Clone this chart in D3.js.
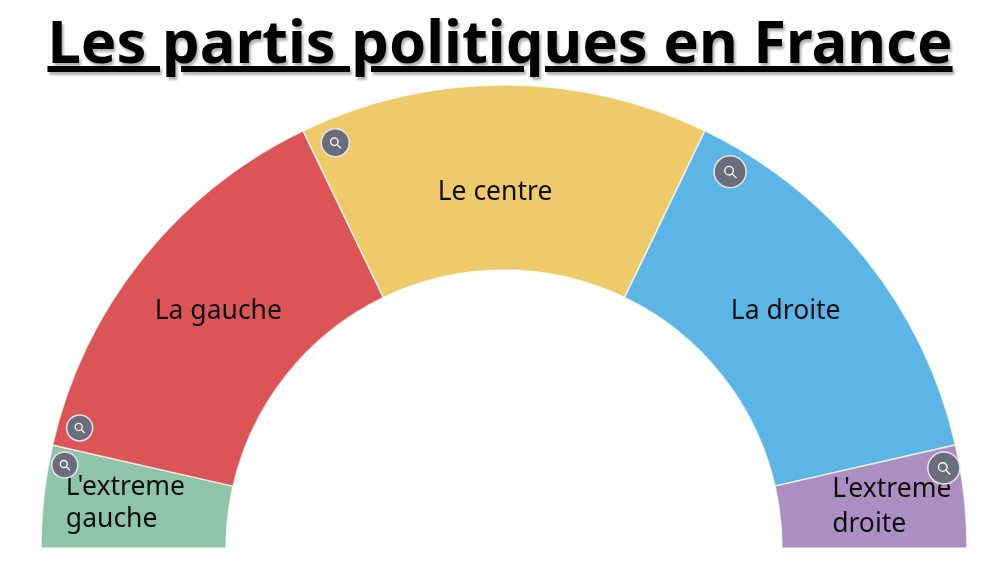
<!DOCTYPE html>
<html lang="fr">

<head>
  <meta charset="UTF-8">
  <title>Les partis politiques en France</title>
  <script src="https://d3js.org/d3.v7.min.js"></script>
  <style>
    html, body {
      margin: 0;
      padding: 0;
      background: #fff;
      overflow: hidden;
    }

    svg {
      display: block;
      font-family: "Noto Sans", sans-serif;
    }

    .title {
      font-size: 59.7px;
      font-weight: 700;
      text-decoration: underline;
      text-anchor: middle;
    }

    .label {
      font-size: 26.5px;
      fill: #111;
    }
  </style>
</head>

<body>
  <div id="chart"></div>

  <script>
    const parties = ["L'extreme gauche", "La gauche", "Le centre", "La droite", "L'extreme droite"];
    const seats = [1, 4, 4, 4, 1];
    const colors = ["#8fc4a8", "#dc5457", "#efca6a", "#5db5e5", "#ab8fc3"];

    // markers: angle in degrees from the left end of the arc, radius from the centre
    const markerAngles = [10.7, 15.8, 67.4, 121, 169.7];
    const markerRadii = [447, 441, 439, 439, 447];
    const markerSizes = [13, 13, 14, 16, 16];

    const width = 1000;
    const height = 563;
    const cx = 504;
    const cy = 548;
    const outerRadius = 463;
    const innerRadius = 278;

    const svg = d3.select("#chart").append("svg")
      .attr("width", width)
      .attr("height", height);

    // the reference is a slightly soft screenshot
    const defs = svg.append("defs");
    defs.append("filter").attr("id", "soft")
      .append("feGaussianBlur").attr("stdDeviation", 0.5);
    const shadow = defs.append("filter").attr("id", "titleShadow");
    shadow.append("feDropShadow")
      .attr("dx", 2).attr("dy", 3).attr("stdDeviation", 0.8)
      .attr("flood-color", "#000").attr("flood-opacity", 0.3);

    svg.append("text")
      .attr("class", "title")
      .attr("x", 500)
      .attr("y", 63)
      .attr("filter", "url(#titleShadow)")
      .text("Les partis politiques en France");

    const g = svg.append("g")
      .attr("transform", `translate(${cx},${cy})`)
      .attr("filter", "url(#soft)");

    const pie = d3.pie()
      .sort(null)
      .startAngle(-Math.PI / 2)
      .endAngle(Math.PI / 2);

    const arc = d3.arc()
      .innerRadius(innerRadius)
      .outerRadius(outerRadius);

    g.selectAll("path")
      .data(pie(seats))
      .enter().append("path")
      .attr("d", arc)
      .attr("fill", (d, i) => colors[i])
      .attr("stroke", "#fff")
      .attr("stroke-opacity", 0.7)
      .attr("stroke-width", 1.5);

    // labels sit off the centroid, as in the original
    const labelOffsets = [[-70, -4.5], [4, -7], [-9, 13], [-8, -7], [-40, -2.5]];
    const lineGaps = [32, 0, 0, 0, 35];
    const labelLines = parties.map((p, i) => (i === 0 || i === 4) ? p.split(/ (?=gauche|droite)/) : [p]);

    g.selectAll("text.label")
      .data(pie(seats))
      .enter().append("text")
      .attr("class", "label")
      .attr("text-anchor", (d, i) => (i === 0 || i === 4) ? "start" : "middle")
      .each(function (d, i) {
        const [x, y] = arc.centroid(d);
        const lines = labelLines[i];
        d3.select(this).selectAll("tspan")
          .data(lines)
          .enter().append("tspan")
          .attr("x", x + labelOffsets[i][0])
          .attr("y", (l, j) => y + labelOffsets[i][1] + j * lineGaps[i] - (lines.length - 1) * 16 + 9)
          .text(l => l);
      });

    // magnifier markers
    const angle = d3.scaleLinear().domain([0, 180]).range([Math.PI, 0]);

    const markers = g.selectAll("g.marker")
      .data(markerAngles)
      .enter().append("g")
      .attr("class", "marker")
      .attr("transform", (d, i) => {
        const x = Math.cos(angle(d)) * markerRadii[i];
        const y = -Math.sin(angle(d)) * markerRadii[i];
        return `translate(${x},${y})`;
      });

    markers.append("circle")
      .attr("r", (d, i) => markerSizes[i])
      .attr("fill", "#6b6d7c")
      .attr("stroke", "#e4e4e8")
      .attr("stroke-width", 1.5);

    markers.append("circle")
      .attr("cx", -1)
      .attr("cy", -1)
      .attr("r", (d, i) => markerSizes[i] * 0.27)
      .attr("fill", "none")
      .attr("stroke", "#fff")
      .attr("stroke-width", 1.3);

    markers.append("line")
      .attr("x1", (d, i) => markerSizes[i] * 0.12)
      .attr("y1", (d, i) => markerSizes[i] * 0.12)
      .attr("x2", (d, i) => markerSizes[i] * 0.4)
      .attr("y2", (d, i) => markerSizes[i] * 0.4)
      .attr("stroke", "#fff")
      .attr("stroke-width", 1.3);
  </script>
</body>

</html>
